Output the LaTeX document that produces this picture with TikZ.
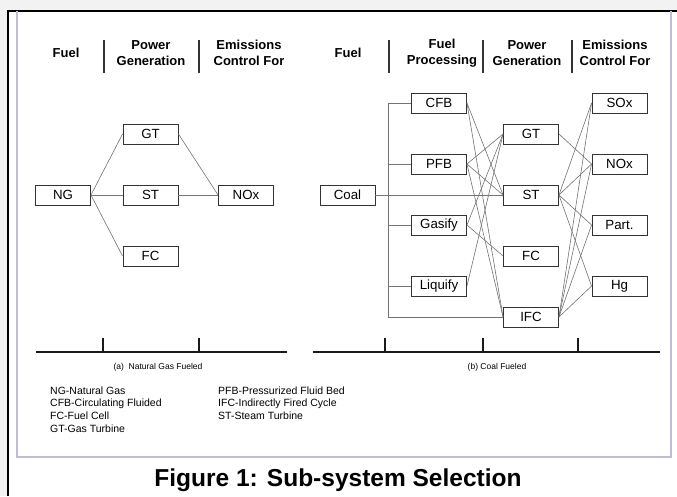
\documentclass[tikz,border=0pt]{standalone}
\usepackage{fontspec}
\setmainfont{Liberation Sans}
\begin{document}
\begin{tikzpicture}[x=1pt,y=-1pt,
 box/.style={draw=black!80,line width=0.9pt,fill=white,minimum width=55pt,minimum height=20pt,inner sep=0pt,font=\fontsize{13.3}{15}\selectfont},
 hdr/.style={font=\bfseries\fontsize{13}{16.5}\selectfont,align=center,inner sep=0pt},
 lnk/.style={draw=black!55,line width=0.6pt},
 bar/.style={draw=black!80,line width=1.4pt},
 axis/.style={draw=black!90,line width=1.3pt},
 leg/.style={anchor=west,font=\fontsize{10.5}{12}\selectfont,inner sep=0pt},
 subcap/.style={font=\fontsize{8.5}{10}\selectfont,inner sep=0pt},
]
\useasboundingbox (0,0) rectangle (677,496);
\fill[black!5] (0,0) rectangle (677,496);
\fill[white] (8,11) rectangle (677,496);
\draw[line width=1.2pt] (8,496) -- (8,11) -- (677,11);
\draw[draw={rgb,255:red,190;green,190;blue,215},line width=1.4pt] (17,11) -- (17,457) -- (671,457) -- (671,11);

% headers left
\node[hdr] (hF1) at (66,53) {Fuel};
\node[hdr] (hP1) at (151,53) {Power\\Generation};
\node[hdr] (hE1) at (249,53) {Emissions\\Control For};
\draw[bar] (104,40) -- (104,73);
\draw[bar] (199,40) -- (199,73);
% headers right
\node[hdr] (hF2) at (348,53) {Fuel};
\node[hdr] (hFP2) at (442,53) {Fuel\\Processing};
\node[hdr] (hP2) at (527,53) {Power\\Generation};
\node[hdr] (hE2) at (615,53) {Emissions\\Control For};
\draw[bar] (389,40) -- (389,73);
\draw[bar] (483,40) -- (483,73);
\draw[bar] (572,40) -- (572,73);

% left diagram
\node[box] (NG) at (63,195) {NG};
\node[box] (GT1) at (150.5,134) {GT};
\node[box] (ST1) at (150.5,195) {ST};
\node[box] (FC1) at (150.5,256) {FC};
\node[box] (NOx1) at (246,195) {NOx};
\draw[lnk] (NG.east) -- (GT1.west);
\draw[lnk] (NG.east) -- (ST1.west);
\draw[lnk] (NG.east) -- (FC1.west);
\draw[lnk] (GT1.east) -- (NOx1.west);
\draw[lnk] (ST1.east) -- (NOx1.west);

% right diagram
\node[box] (Coal) at (347.5,195) {Coal};
\node[box] (CFB) at (439,103) {CFB};
\node[box] (PFB) at (439,164) {PFB};
\node[box] (Gas) at (439,225) {Gasify};
\node[box] (Liq) at (439,286) {Liquify};
\node[box] (GT2) at (531,134) {GT};
\node[box] (ST2) at (531,195) {ST};
\node[box] (FC2) at (531,256) {FC};
\node[box] (IFC) at (531,317) {IFC};
\node[box] (SOx) at (619.5,103) {SOx};
\node[box] (NOx2) at (619.5,164) {NOx};
\node[box] (Part) at (619.5,225) {Part.};
\node[box] (Hg) at (619.5,286) {Hg};

\coordinate (busT) at (388,103);
\coordinate (busB) at (388,317);
\draw[lnk] (CFB.west) -- (busT) -- (busB) -- (IFC.west);
\draw[lnk] (PFB.west) -- (PFB.west -| busT);
\draw[lnk] (Gas.west) -- (Gas.west -| busT);
\draw[lnk] (Liq.west) -- (Liq.west -| busT);
\draw[lnk] (Coal.east) -- (ST2.west);

\draw[lnk] (CFB.east) -- (ST2.west);
\draw[lnk] (CFB.east) -- (IFC.west);
\draw[lnk] (PFB.east) -- (GT2.west);
\draw[lnk] (PFB.east) -- (ST2.west);
\draw[lnk] (PFB.east) -- (IFC.west);
\draw[lnk] (Gas.east) -- (GT2.west);
\draw[lnk] (Gas.east) -- (FC2.west);
\draw[lnk] (Liq.east) -- (GT2.west);

\draw[lnk] (GT2.east) -- (NOx2.west);
\foreach \t in {SOx,NOx2,Part,Hg}{
  \draw[lnk] (ST2.east) -- (\t.west);
  \draw[lnk] (IFC.east) -- (\t.west);
}

% axes
\coordinate (aL1) at (36,352); \coordinate (aR1) at (287,352);
\draw[axis] (aL1) -- (aR1);
\draw[axis] (103,352) -- (103,338);
\draw[axis] (199,352) -- (199,338);
\coordinate (aL2) at (313,352); \coordinate (aR2) at (660,352);
\draw[axis] (aL2) -- (aR2);
\draw[axis] (385,352) -- (385,338);
\draw[axis] (483,352) -- (483,338);
\draw[axis] (578,352) -- (578,338);

\node[subcap] (capa) at (158,367) {(a)\ \ Natural Gas Fueled};
\node[subcap] (capb) at (497,367) {(b) Coal Fueled};

% legend
\node[leg] (l1) at (50,391) {NG-Natural Gas};
\node[leg] (l2) at (50,403.5) {CFB-Circulating Fluided};
\node[leg] (l3) at (50,416) {FC-Fuel Cell};
\node[leg] (l4) at (50,428.5) {GT-Gas Turbine};
\node[leg] (l5) at (218,391) {PFB-Pressurized Fluid Bed};
\node[leg] (l6) at (218,403.5) {IFC-Indirectly Fired Cycle};
\node[leg] (l7) at (218,416) {ST-Steam Turbine};

\node[font=\bfseries\fontsize{24.5}{30}\selectfont,inner sep=0pt] (title) at (338,480) {Figure 1: Sub-system Selection};
\end{tikzpicture}
\end{document}
